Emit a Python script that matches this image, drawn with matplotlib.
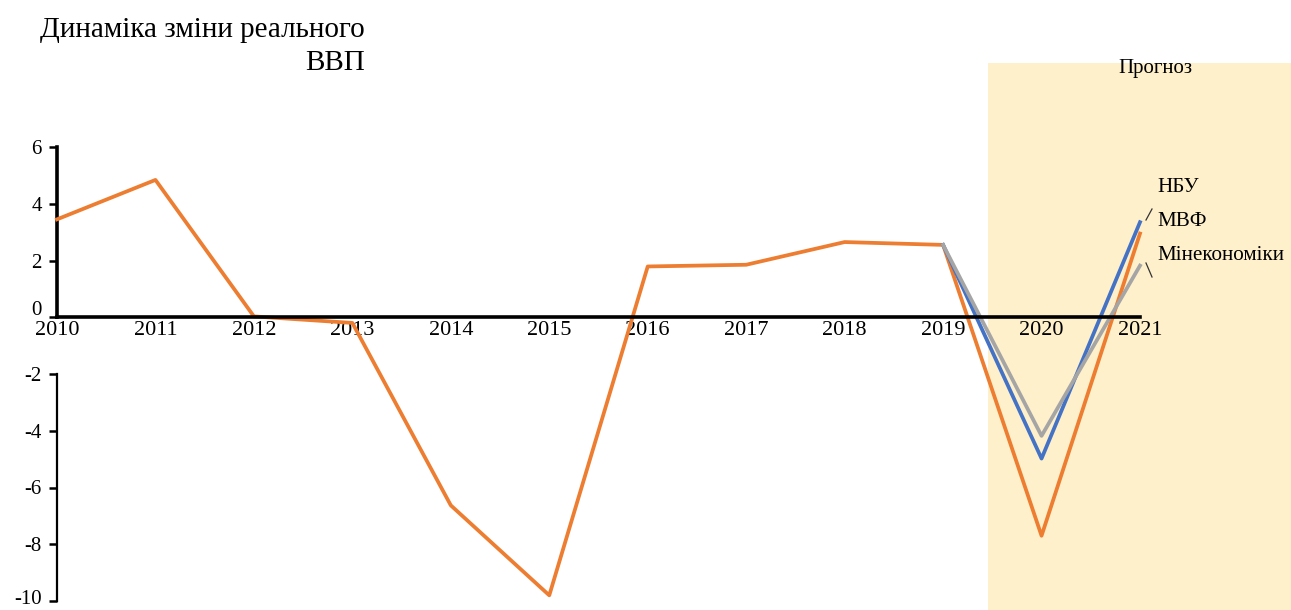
import matplotlib
matplotlib.use("Agg")
import matplotlib.pyplot as plt
from matplotlib.patches import Rectangle
import matplotlib.transforms as mtrans

years = [2010, 2011, 2012, 2013, 2014, 2015, 2016, 2017, 2018, 2019, 2020, 2021]
gdp_nbu = [3.45, 4.84, 0.03, -0.2, -6.63, -9.8, 1.79, 1.85, 2.65, 2.55, -7.7, 2.95]
fc_years = [2019, 2020, 2021]
gdp_imf = [2.55, -4.98, 3.35]
gdp_mineco = [2.55, -4.18, 1.82]
yticks = [6, 4, 2, 0, -2, -4, -6, -8, -10]
series_labels = ["НБУ", "МВФ", "Мінекономіки"]

ORANGE = "#ED7D31"
BLUE = "#4472C4"
GRAY = "#A5A5A5"
SHADE = "#FFF0CC"
FONT = ["Liberation Serif", "DejaVu Serif"]
plt.rcParams['font.family'] = FONT

W, H = 1291, 610
fig = plt.figure(figsize=(W / 100, H / 100), dpi=100)

# forecast shading (figure coordinates), behind the axes
shade = Rectangle((988 / W, 0), 1 - 988 / W, 1 - 63 / H,
                  transform=fig.transFigure, facecolor=SHADE,
                  edgecolor="none", zorder=-10)
fig.patches.append(shade)
fig.text(1155 / W, 1 - 68 / H, "Прогноз", ha="center", va="center", fontsize=15)

ax = fig.add_axes([57 / W, 9 / H, 1083 / W, 454 / H])
ax.patch.set_alpha(0)
ax.set_zorder(1)
ax.set_xlim(2010, 2021)
ax.set_ylim(-10, 6)

ax.plot(years, gdp_nbu, color=ORANGE, lw=2.7, clip_on=False, zorder=3)
ax.plot(fc_years, gdp_imf, color=BLUE, lw=2.7, clip_on=False, zorder=4)
ax.plot(fc_years, gdp_mineco, color=GRAY, lw=2.7, clip_on=False, zorder=5)

# axes styling
for s in ["top", "right"]:
    ax.spines[s].set_visible(False)
ax.spines["bottom"].set_position(("data", 0))
ax.spines["bottom"].set_linewidth(2.6)
ax.spines["bottom"].set_zorder(6)
ax.spines["left"].set_bounds(0, 6)
ax.spines["left"].set_linewidth(2.6)
ax.plot([2010, 2010], [-2, -10], color="black", lw=1.6, clip_on=False, zorder=6)

ax.set_xticks(years)
ax.set_xticklabels([str(y) for y in years], fontsize=16)
ax.tick_params(axis="x", length=0, pad=3)
ax.set_yticks(yticks)
ax.set_yticklabels([str(v) for v in yticks], fontsize=15)
ax.tick_params(axis="y", length=6, width=1.8, pad=5)
# the "0" label sits a little above the axis line; "-10" nudged to stay inside
for lab, v in zip(ax.get_yticklabels(), yticks):
    if v == 0:
        lab.set_transform(lab.get_transform() + mtrans.ScaledTranslation(0, 9 / 100, fig.dpi_scale_trans))
    if v == -10:
        lab.set_transform(lab.get_transform() + mtrans.ScaledTranslation(0, 4 / 100, fig.dpi_scale_trans))

# series labels with leader lines
fig.text(1157 / W, 1 - 188 / H, series_labels[0], ha="left", va="center", fontsize=15.2)
fig.text(1157 / W, 1 - 222 / H, series_labels[1], ha="left", va="center", fontsize=15.2)
fig.text(1157 / W, 1 - 255 / H, series_labels[2], ha="left", va="center", fontsize=15.2)
fig.add_artist(plt.Line2D([1146 / W, 1152 / W], [1 - 220 / H, 1 - 209 / H],
                          color="#333333", lw=0.9))
fig.add_artist(plt.Line2D([1146 / W, 1152 / W], [1 - 263 / H, 1 - 277 / H],
                          color="#333333", lw=0.9))

# title
fig.text(365 / W, 1 - 30 / H, "Динаміка зміни реального", ha="right", va="center", fontsize=21)
fig.text(365 / W, 1 - 63 / H, "ВВП", ha="right", va="center", fontsize=21)

fig.savefig("out.png", dpi=100)
